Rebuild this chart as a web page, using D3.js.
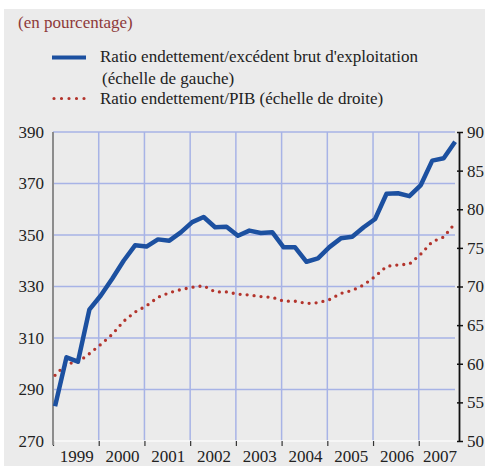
<!DOCTYPE html>
<html>
<head>
<meta charset="utf-8">
<script src="https://cdn.jsdelivr.net/npm/d3@7"></script>
<style>
  body { margin: 0; background: #fff; }
</style>
</head>
<body>
<svg id="chart"></svg>
<script>
// years shown on the x axis
const years = [1999, 2000, 2001, 2002, 2003, 2004, 2005, 2006, 2007];

// quarterly data, 1999 T1 -> 2007 T4
// debt / gross operating surplus (left scale)
const ratioEbe = [283.5, 302.5, 300.8, 321.0, 326.5, 333.0, 340.0, 346.0,
                  345.5, 348.3, 347.8, 351.0, 355.0, 357.0, 353.0, 353.2,
                  349.7, 351.7, 350.8, 351.1, 345.2, 345.2, 339.6, 340.9,
                  345.3, 348.7, 349.3, 353.0, 356.2, 366.0, 366.2, 365.1,
                  369.4, 378.9, 379.8, 386.2];
// debt / GDP (right scale)
const ratioPib = [58.5, 60.0, 60.2, 61.3, 62.5, 63.8, 65.5, 66.7,
                  67.5, 68.6, 69.2, 69.6, 69.9, 70.1, 69.3, 69.3,
                  69.0, 68.9, 68.7, 68.6, 68.1, 68.1, 67.8, 67.9,
                  68.3, 69.1, 69.5, 70.2, 71.3, 72.6, 72.8, 72.9,
                  74.2, 75.8, 76.4, 78.2];

const leftTicks = [270, 290, 310, 330, 350, 370, 390];
const rightTicks = [50, 55, 60, 65, 70, 75, 80, 85, 90];

const labelEbe = ["Ratio endettement/excédent brut d'exploitation", "(échelle de gauche)"];
const labelPib = "Ratio endettement/PIB (échelle de droite)";

const FONT = '"Liberation Serif"';
const FS = 17;

const width = 491, height = 466;
const margin = {top: 132, right: 32, bottom: 25, left: 53};
const plotRight = 459;
const gridRight = 455;
const ptOffset = 0.18; // where in its quarter each point sits

const svg = d3.select('#chart')
    .attr('width', width)
    .attr('height', height)
    .style('font-family', FONT);

svg.append('rect')
    .attr('x', 4).attr('y', 9)
    .attr('width', 481).attr('height', height - 9)
    .attr('fill', '#ebebeb');

// scales: x in quarters since 1999 T1
const xScale = d3.scaleLinear()
    .domain([0, years.length * 4])
    .range([margin.left, margin.left + years.length * 4 * 11.43]);
const yLeft = d3.scaleLinear()
    .domain([270, 390])
    .range([height - margin.bottom, margin.top]);
const yRight = d3.scaleLinear()
    .domain([50, 90])
    .range([height - margin.bottom, margin.top]);

const bottomY = yLeft(270);

// grid
const grid = svg.append('g').attr('stroke', '#a7b3e6').attr('stroke-width', 1.5);
grid.selectAll('.hgrid')
    .data(leftTicks.slice(1))
    .join('line')
      .attr('x1', margin.left).attr('x2', gridRight)
      .attr('y1', d => yLeft(d)).attr('y2', d => yLeft(d));
grid.selectAll('.vgrid')
    .data(years.slice(1))
    .join('line')
      .attr('x1', (d, i) => xScale((i + 1) * 4)).attr('x2', (d, i) => xScale((i + 1) * 4))
      .attr('y1', margin.top).attr('y2', bottomY);

// bottom axis line + year ticks
svg.append('line')
    .attr('x1', margin.left).attr('x2', plotRight)
    .attr('y1', bottomY).attr('y2', bottomY)
    .attr('stroke', '#fafafa').attr('stroke-width', 1.5);
svg.selectAll('.xtick')
    .data(years)
    .join('line')
      .attr('x1', (d, i) => xScale(i * 4) + 0.5).attr('x2', (d, i) => xScale(i * 4) + 0.5)
      .attr('y1', bottomY).attr('y2', bottomY + 5)
      .attr('stroke', '#333').attr('stroke-width', 1.2);
svg.selectAll('.xlabel')
    .data(years)
    .join('text')
      .attr('x', (d, i) => (xScale(i * 4) + Math.min(xScale(i * 4 + 4), plotRight)) / 2 + 1)
      .attr('y', 462)
      .attr('text-anchor', 'middle')
      .style('font-family', FONT)
      .attr('font-size', FS)
      .attr('fill', '#222')
      .text(d => d);

// left axis
svg.append('line')
    .attr('x1', margin.left).attr('x2', margin.left)
    .attr('y1', margin.top).attr('y2', bottomY + 4)
    .attr('stroke', '#8c8c8c').attr('stroke-width', 2);
svg.selectAll('.ylabel')
    .data(leftTicks)
    .join('text')
      .attr('x', 44)
      .attr('y', d => yLeft(d))
      .attr('dy', '0.35em')
      .attr('text-anchor', 'end')
      .style('font-family', FONT)
      .attr('font-size', FS)
      .attr('fill', '#222')
      .text(d => d);

// right axis
const yAxisRight = d3.axisRight(yRight)
    .tickValues(rightTicks)
    .tickSize(4)
    .tickSizeOuter(0)
    .tickPadding(4);
const rAxis = svg.append('g')
    .attr('transform', `translate(${plotRight},0)`)
    .call(yAxisRight)
    .attr('font-family', null);
rAxis.select('.domain').attr('stroke', '#111').attr('stroke-width', 1.8);
rAxis.selectAll('.tick line').attr('stroke', '#111').attr('stroke-width', 1.5).attr('x1', -2);
rAxis.selectAll('.tick text')
    .style('font-family', FONT)
    .attr('font-size', FS)
    .attr('fill', '#222');

// lines
const lineEbe = d3.line()
    .x((d, i) => xScale(i + ptOffset))
    .y(d => yLeft(d));
const linePib = d3.line()
    .x((d, i) => xScale(i + ptOffset))
    .y(d => yRight(d));

svg.append('path')
    .datum(ratioPib)
    .attr('d', linePib)
    .attr('fill', 'none')
    .attr('stroke', '#b3342c')
    .attr('stroke-width', 3.3)
    .attr('stroke-linecap', 'round')
    .attr('stroke-dasharray', '0,7');

svg.append('path')
    .datum(ratioEbe)
    .attr('d', lineEbe)
    .attr('fill', 'none')
    .attr('stroke', '#1c50a0')
    .attr('stroke-width', 4.5)
    .attr('stroke-linejoin', 'round');

// title
svg.append('text')
    .attr('x', 18).attr('y', 28)
    .style('font-family', FONT)
    .attr('font-size', FS)
    .attr('fill', '#8e3a3a')
    .text('(en pourcentage)');

// legend
const legend = svg.append('g');
legend.append('line')
    .attr('x1', 52).attr('x2', 86)
    .attr('y1', 57.5).attr('y2', 57.5)
    .attr('stroke', '#1c50a0').attr('stroke-width', 4);
legend.append('line')
    .attr('x1', 54).attr('x2', 86)
    .attr('y1', 98.5).attr('y2', 98.5)
    .attr('stroke', '#b3342c').attr('stroke-width', 3.2)
    .attr('stroke-linecap', 'round')
    .attr('stroke-dasharray', '0,7.5');
legend.selectAll('.ltext')
    .data(labelEbe)
    .join('text')
      .attr('x', (d, i) => 100 + i * 2)
      .attr('y', (d, i) => 62 + i * 21.5)
      .style('font-family', FONT)
      .attr('font-size', FS)
      .attr('fill', '#222')
      .text(d => d);
legend.append('text')
    .attr('x', 100).attr('y', 104)
    .style('font-family', FONT)
    .attr('font-size', FS)
    .attr('fill', '#222')
    .text(labelPib);
</script>
</body>
</html>
